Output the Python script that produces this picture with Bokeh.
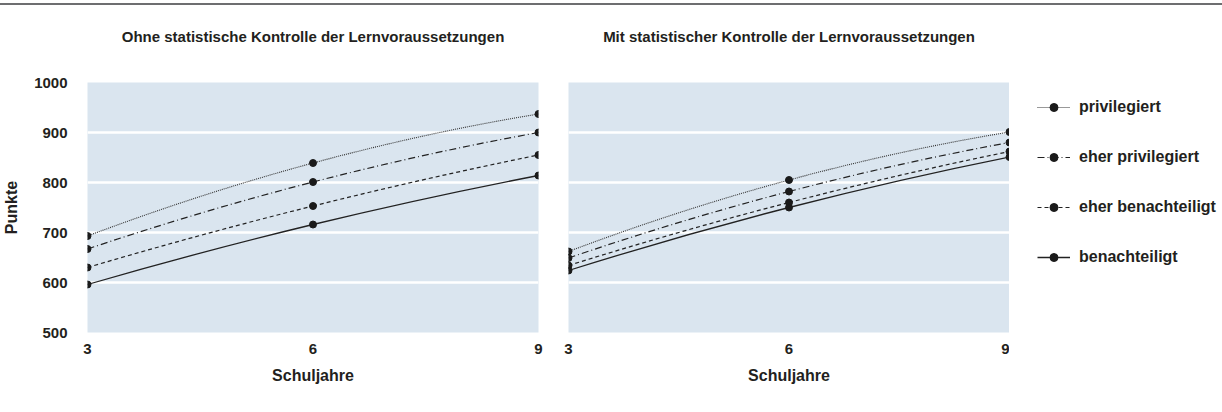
from bokeh.plotting import figure
from bokeh.models import (ColumnDataSource, Legend, LegendItem, FixedTicker, Div, Title)
from bokeh.layouts import row, column
from bokeh.embed import file_html
from bokeh.resources import INLINE

# ---------------- data ----------------
schuljahre = [3, 6, 9]
gruppen = ["privilegiert", "eher privilegiert", "eher benachteiligt", "benachteiligt"]

ohne_privilegiert = [693, 839, 937]
ohne_eher_privilegiert = [667, 801, 900]
ohne_eher_benachteiligt = [630, 753, 855]
ohne_benachteiligt = [596, 716, 814]

mit_privilegiert = [662, 805, 901]
mit_eher_privilegiert = [649, 782, 880]
mit_eher_benachteiligt = [634, 760, 862]
mit_benachteiligt = [624, 750, 851]

titel_links = "Ohne statistische Kontrolle der Lernvoraussetzungen"
titel_rechts = "Mit statistischer Kontrolle der Lernvoraussetzungen"
y_ticks = [500, 600, 700, 800, 900, 1000]

# ---------------- style ----------------
FONT = "Liberation Sans"
TXT = "#231f20"
BG = "#dae5ef"
styles = {
    "privilegiert": dict(line_dash="1 1", line_width=1.1, line_color="#333333"),
    "eher privilegiert": dict(line_dash="7 3 1 3", line_width=1.2, line_color="#222222"),
    "eher benachteiligt": dict(line_dash="4 3", line_width=1.2, line_color="#222222"),
    "benachteiligt": dict(line_dash="solid", line_width=1.3, line_color="#222222"),
}


def smooth_segments(xs, ys):
    """Cubic bezier segments of the parabola-like curve through the points."""
    n = len(xs)
    sec = [(ys[i + 1] - ys[i]) / (xs[i + 1] - xs[i]) for i in range(n - 1)]
    m = [0.0] * n
    for i in range(1, n - 1):
        m[i] = (sec[i - 1] + sec[i]) / 2
    m[0] = (3 * sec[0] - sec[1]) / 2 if n > 2 else sec[0]
    m[-1] = (3 * sec[-1] - sec[-2]) / 2 if n > 2 else sec[-1]
    d = dict(x0=[], y0=[], x1=[], y1=[], cx0=[], cy0=[], cx1=[], cy1=[])
    for i in range(n - 1):
        h = xs[i + 1] - xs[i]
        d["x0"].append(xs[i]); d["y0"].append(ys[i])
        d["x1"].append(xs[i + 1]); d["y1"].append(ys[i + 1])
        d["cx0"].append(xs[i] + h / 3); d["cy0"].append(ys[i] + m[i] * h / 3)
        d["cx1"].append(xs[i + 1] - h / 3); d["cy1"].append(ys[i + 1] - m[i + 1] * h / 3)
    return d


def draw_series(p, series):
    items = []
    for name, ys in zip(gruppen, series):
        src = ColumnDataSource(smooth_segments(schuljahre, ys))
        r_line = p.bezier(x0="x0", y0="y0", x1="x1", y1="y1",
                          cx0="cx0", cy0="cy0", cx1="cx1", cy1="cy1",
                          source=src, **styles[name])
        r_pt = p.scatter(schuljahre, ys, size=7, fill_color="#1a1a1a",
                         line_color="#1a1a1a")
        items.append(LegendItem(label=name, renderers=[r_line, r_pt]))
    return items


def make_panel(title, series, width, left, right, show_y):
    p = figure(width=width, height=407, x_range=(3, 9), y_range=(500, 1000),
               output_backend="svg", toolbar_location=None, title=None,
               min_border_left=left, min_border_right=right,
               min_border_top=77, min_border_bottom=80,
               y_axis_location="left" if show_y else None)
    p.background_fill_color = BG
    p.border_fill_color = "white"
    p.outline_line_color = None

    # spacer between frame and title, then the title itself (further out)
    p.add_layout(Title(text=" ", text_font=FONT, text_font_size="15px",
                       standoff=19), "above")
    p.add_layout(Title(text=title, align="center", text_font=FONT,
                       text_font_size="15px", text_font_style="bold",
                       text_color=TXT, standoff=0), "above")

    p.xgrid.visible = False
    p.ygrid.ticker = FixedTicker(ticks=y_ticks)
    p.ygrid.grid_line_color = "white"
    p.ygrid.grid_line_width = 2.5

    for ax in p.axis:
        ax.axis_line_color = None
        ax.major_tick_line_color = None
        ax.minor_tick_line_color = None
        ax.major_tick_out = 0
        ax.major_tick_in = 0
        ax.major_label_text_font = FONT
        ax.major_label_text_font_style = "bold"
        ax.major_label_text_font_size = "15px"
        ax.major_label_text_color = TXT
        ax.axis_label_text_font = FONT
        ax.axis_label_text_font_style = "bold"
        ax.axis_label_text_font_size = "16px"
        ax.axis_label_text_color = TXT
    p.xaxis.ticker = FixedTicker(ticks=schuljahre)
    p.xaxis.axis_label = "Schuljahre"
    p.xaxis.major_label_standoff = 11
    p.xaxis.axis_label_standoff = 10
    if show_y:
        p.yaxis.ticker = FixedTicker(ticks=y_ticks)
        p.yaxis.axis_label = "Punkte"
        p.yaxis.major_label_standoff = 20
        p.yaxis.axis_label_standoff = 11

    draw_series(p, series)
    return p


p1 = make_panel(titel_links,
                [ohne_privilegiert, ohne_eher_privilegiert,
                 ohne_eher_benachteiligt, ohne_benachteiligt],
                553, 87, 15, True)
p2 = make_panel(titel_rechts,
                [mit_privilegiert, mit_eher_privilegiert,
                 mit_eher_benachteiligt, mit_benachteiligt],
                456, 15, 0, False)

# legend panel: same series drawn outside its visible range, only the legend shows
p3 = figure(width=213, height=407, x_range=(0, 1), y_range=(0, 1),
            output_backend="svg", toolbar_location=None,
            x_axis_location=None, y_axis_location=None,
            min_border_left=0, min_border_right=0,
            min_border_top=0, min_border_bottom=0)
p3.outline_line_color = None
p3.grid.visible = False
p3.background_fill_color = "white"
items = draw_series(p3, [mit_privilegiert, mit_eher_privilegiert,
                         mit_eher_benachteiligt, mit_benachteiligt])
legend = Legend(items=items, location=(28, 65), orientation="vertical",
                border_line_color=None, background_fill_alpha=0,
                glyph_width=33, glyph_height=20, label_height=20,
                spacing=30, label_standoff=9, padding=0, margin=0,
                label_text_font=FONT, label_text_font_style="bold",
                label_text_font_size="16px", label_text_color=TXT)
p3.add_layout(legend, "center")

top_line = Div(text="", width=1222, height=5,
               styles={"background": "linear-gradient(to bottom, #ffffff 3px, #6d6e70 3px)",
                       "margin": "0"})

layout = column(top_line, row(p1, p2, p3, spacing=0), spacing=0)

open("out.html", "w").write(file_html(layout, INLINE))
